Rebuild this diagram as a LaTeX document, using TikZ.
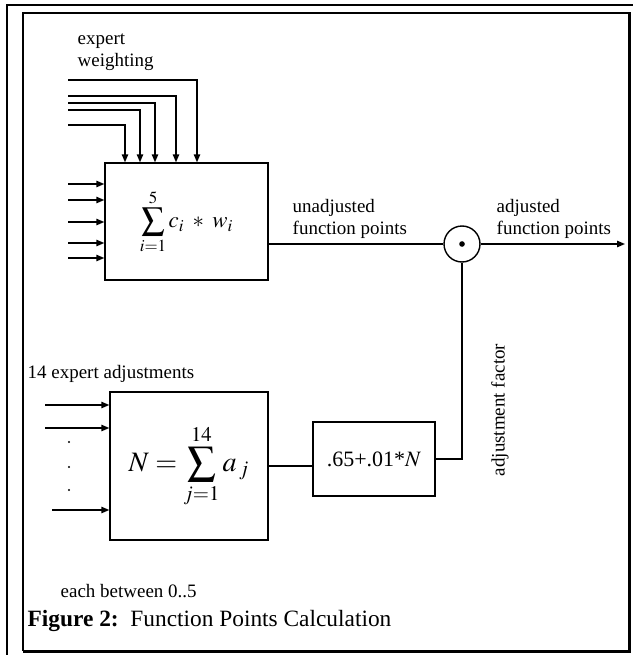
\documentclass[tikz,border=0pt]{standalone}
\usepackage{mathptmx}
\usepackage[no-math]{fontspec}
\setmainfont{Liberation Serif}
\usetikzlibrary{arrows.meta}

\tikzset{
  arr/.style={-{Triangle[length=4.5pt,width=3.6pt]}},
  blk/.style={draw,line width=0.8pt,inner sep=0pt},
  lbl/.style={font=\fontsize{10.8}{12.6}\selectfont,inner sep=0pt,align=left}
}

\begin{document}
\begin{tikzpicture}[x=0.02cm,y=-0.02cm,line width=0.8pt]
  \useasboundingbox (0,0) rectangle (634,655);
  % frame
  \draw[line width=1.7pt] (6,5)--(633,5);
  \draw[line width=1.7pt] (7,5)--(7,655);
  \draw[line width=1.1pt] (629,13)--(23,13)--(23,651);
  \draw[line width=1.7pt] (23,651)--(629,651)--(629,12);

  % blocks
  \node[blk,minimum width=3.26cm,minimum height=2.34cm] (wsum) at (186.5,221.5)
    {\fontsize{13}{15}\selectfont$\displaystyle\sum_{i=1}^{5} c_i \;*\; w_i$};
  \node[blk,circle,minimum size=0.72cm] (mult) at (462,244) {};
  \fill (mult) circle (1.6pt);
  \node[blk,minimum width=3.16cm,minimum height=2.96cm] (nsum) at (189,466)
    {\fontsize{16}{18}\selectfont$N = \displaystyle\sum_{j=1}^{14} a_{\,j}$};
  \node[blk,minimum width=2.44cm,minimum height=1.48cm] (fac) at (374,459)
    {\fontsize{12.5}{14}\selectfont .65+.01*$N$};

  % expert weighting inputs
  \foreach \y/\x in {80/197,96/176,103/155,110/140,125/125}
    \draw[arr] (68,\y) -| (\x,0 |- wsum.north);
  \foreach \y in {184,200,222,243,258}
    \draw[arr] (68,\y) -- (wsum.west |- 0,\y);

  % adjustments
  \foreach \y/\x in {405/45,428/45,510/52}
    \draw[arr] (\x,\y) -- (nsum.west |- 0,\y);
  \foreach \y in {442,467,490}
    \fill (69,\y) circle (0.6pt);

  % connections
  \coordinate (out) at (625,244);
  \draw (wsum.east |- mult) -- (mult);
  \draw[arr] (mult) -- (out);
  \draw (nsum.east) -- (nsum.east -| fac.west);
  \draw (fac.east) -| (mult.south);

  % labels
  \node[lbl,anchor=north west] at (77,33) {expert\\weighting};
  \node[lbl,anchor=south west] at (292,239) {unadjusted\\function points};
  \node[lbl,anchor=south west] at (496,239) {adjusted\\function points};
  \node[lbl,anchor=base west] at (27,378) {14 expert adjustments};
  \node[lbl,rotate=90] at (500,410) {adjustment factor};
  \node[lbl,anchor=base west] at (60,597) {each between 0..5};
  \node[anchor=base west,inner sep=0pt,font=\fontsize{13.3}{15}\selectfont] at (27,626)
    {\textbf{Figure 2:}\ \ Function Points Calculation};
\end{tikzpicture}
\end{document}
